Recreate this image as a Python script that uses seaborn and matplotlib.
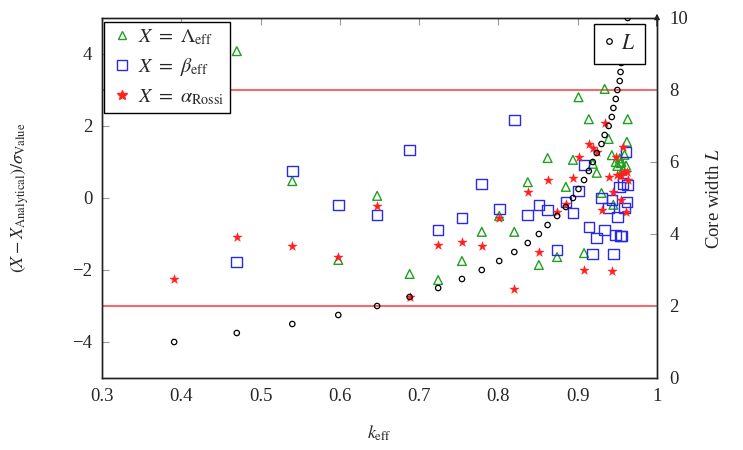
import numpy as np
import pandas as pd
import matplotlib
matplotlib.use("Agg")
import matplotlib.pyplot as plt
import seaborn as sns
from matplotlib.lines import Line2D

nan = np.nan

k_eff = [0.391, 0.470, 0.540, 0.598, 0.647, 0.688, 0.724, 0.754, 0.779, 0.801,
         0.820, 0.837, 0.851, 0.862, 0.874, 0.885, 0.894, 0.901, 0.908, 0.914,
         0.919, 0.924, 0.930, 0.934, 0.939, 0.943, 0.945, 0.948, 0.950, 0.953,
         0.954, 0.955, 0.957, 0.959, 0.961, 0.962, 0.963]

core_width = [1.0, 1.25, 1.5, 1.75, 2.0, 2.25, 2.5, 2.75, 3.0, 3.25,
              3.5, 3.75, 4.0, 4.25, 4.5, 4.75, 5.0, 5.25, 5.5, 5.75,
              6.0, 6.25, 6.5, 6.75, 7.0, 7.25, 7.5, 7.75, 8.0, 8.25,
              8.5, 8.75, 9.0, 9.25, 9.5, 9.75, 10.0]

lambda_dev = [nan, 4.08, 0.47, -1.72, 0.06, -2.11, -2.28, -1.75, -0.94, -0.50,
              -0.94, 0.44, -1.86, 1.11, -1.64, 0.31, 1.06, 2.80, -1.53, 2.19,
              0.95, 0.70, 0.14, 3.03, 1.64, 1.19, -0.19, 1.00, 0.89, 1.10,
              0.97, 1.00, 0.80, 1.20, 0.90, 1.56, 2.19]

beta_dev = [nan, -1.78, 0.75, -0.19, -0.47, 1.33, -0.89, -0.56, 0.39, -0.31,
            2.17, -0.47, -0.19, -0.33, -1.44, -0.11, -0.42, 0.19, 0.92, -0.81,
            -1.56, -1.11, 0.00, -0.89, -0.28, -0.05, -1.56, -1.03, -0.53, 0.31,
            -1.06, -1.06, 0.40, -0.28, 1.28, -0.11, 0.36]

alpha_dev = [-2.25, -1.08, -1.33, -1.64, -0.22, -2.75, -1.31, -1.22, -1.33, -0.56,
             -2.53, 0.17, -1.50, 0.50, -0.39, -0.17, 0.55, 1.14, -2.00, 1.50,
             1.39, 1.28, -0.33, 2.08, 0.58, -2.03, 0.17, 1.14, 0.64, 0.61,
             -0.05, 0.64, 1.42, 0.72, -0.39, 0.72, 0.50]

df = pd.DataFrame({"k": k_eff, "L": core_width, "lam": lambda_dev,
                   "beta": beta_dev, "alpha": alpha_dev})

sns.set_theme(style="white")
plt.rcParams["font.family"] = ["Liberation Serif", "DejaVu Serif"]
plt.rcParams["mathtext.fontset"] = "stix"

GREEN = "#1fa01f"
BLUE = "#2a2ae6"
RED = "#ff2020"
LINE_RED = "#f46a6a"

fig = plt.figure(figsize=(7.43, 4.5), dpi=100)
ax = fig.add_axes([102/743, 72/450, 555/743, 360/450])
ax2 = ax.twinx()

ax.axhline(3, color=LINE_RED, lw=1.5, zorder=1)
ax.axhline(-3, color=LINE_RED, lw=1.5, zorder=1)

sns.scatterplot(data=df, x="k", y="lam", ax=ax, marker="^", s=40,
                facecolor="none", edgecolor=GREEN, linewidth=1.0, zorder=3)
sns.scatterplot(data=df, x="k", y="beta", ax=ax, marker="s", s=58,
                facecolor="none", edgecolor=BLUE, linewidth=1.0, zorder=3)
sns.scatterplot(data=df, x="k", y="alpha", ax=ax, marker="*", s=48,
                color=RED, edgecolor=RED, linewidth=0.3, zorder=4)
sns.scatterplot(data=df, x="k", y="L", ax=ax2, marker="o", s=15,
                facecolor="none", edgecolor="black", linewidth=0.9, zorder=3)

ax.set_xlim(0.3, 1.0)
ax.set_ylim(-5, 5)
ax2.set_ylim(0, 10)
ax.set_xticks([0.3, 0.4, 0.5, 0.6, 0.7, 0.8, 0.9, 1.0])
ax.set_xticklabels(["0.3", "0.4", "0.5", "0.6", "0.7", "0.8", "0.9", "1"])
ax.set_yticks([-4, -2, 0, 2, 4])
ax.set_yticklabels(["\u22124", "\u22122", "0", "2", "4"])
ax2.set_yticks([0, 2, 4, 6, 8, 10])

for a in (ax, ax2):
    for s in a.spines.values():
        s.set_color("#222222")
        s.set_linewidth(1.0)

ax.tick_params(axis="both", direction="in", length=5, width=0.8,
               color="#999999", labelsize=13.5, top=True, right=False, pad=7)
ax2.tick_params(axis="y", direction="in", length=5, width=0.8,
                color="#999999", labelsize=13.5, pad=9)

ax.set_xlabel(r"$k_{\mathrm{eff}}$", fontsize=13)
ax.xaxis.set_label_coords(0.5, -0.128)
ax.set_ylabel(r"$(X - X_{\mathrm{Analytical}})/\sigma_{\mathrm{Value}}$", fontsize=13)
ax.yaxis.set_label_coords(-0.128, 0.5)
ax2.set_ylabel(r"Core width $L$", fontsize=13.5)
ax2.yaxis.set_label_coords(1.088, 0.5)
ax2.set_xlabel("")

# arrow at top of right axis
ax2.annotate("", xy=(1.0, 1.02), xytext=(1.0, 0.97), xycoords="axes fraction",
             arrowprops=dict(arrowstyle="-|>", color="#222222", lw=1.0,
                             mutation_scale=8), annotation_clip=False)

h1 = [Line2D([], [], ls="none", marker="^", mfc="none", mec=GREEN, ms=6, mew=1.0),
      Line2D([], [], ls="none", marker="s", mfc="none", mec=BLUE, ms=7.5, mew=1.0),
      Line2D([], [], ls="none", marker="*", color=RED, ms=7)]
lab1 = [r"$X\ =\ \Lambda_{\mathrm{eff}}$", r"$X\ =\ \beta_{\mathrm{eff}}$",
        r"$X\ =\ \alpha_{\mathrm{Rossi}}$"]
leg1 = ax2.legend(h1, lab1, loc="upper left", bbox_to_anchor=(0.003, 0.99),
                  borderaxespad=0, fontsize=14.5, frameon=True, fancybox=False,
                  edgecolor="black", framealpha=1, handletextpad=0.2,
                  borderpad=0.3, labelspacing=0.45, handlelength=1.2)
leg1.get_frame().set_linewidth(1.0)
ax2.add_artist(leg1)

h2 = [Line2D([], [], ls="none", marker="o", mfc="none", mec="black", ms=4, mew=0.9)]
leg2 = ax2.legend(h2, [r"$L$"], loc="upper right", bbox_to_anchor=(0.978, 0.983),
                  borderaxespad=0, fontsize=15.5, frameon=True, fancybox=False,
                  edgecolor="black", framealpha=1, handletextpad=0.3,
                  borderpad=0.45, handlelength=0.5)
leg2.get_frame().set_linewidth(1.0)

fig.savefig("out.png", dpi=100)
